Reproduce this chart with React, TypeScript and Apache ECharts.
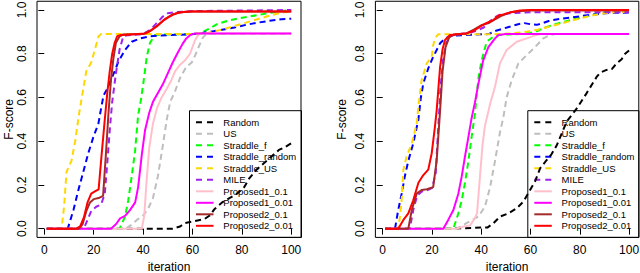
import React, { useEffect, useRef } from "react";
import * as echarts from "echarts";

const SERIES_NAMES = ["Random", "US", "Straddle_f", "Straddle_random", "Straddle_US", "MILE", "Proposed1_0.1", "Proposed1_0.01", "Proposed2_0.1", "Proposed2_0.01"];
const SERIES_COLORS = ["#000000", "#bebebe", "#00ff00", "#0000ff", "#ffd700", "#a020f0", "#ffc0cb", "#ff00ff", "#a52a2a", "#ff0000"];
const SERIES_DASHED = [true, true, true, true, true, true, false, false, false, false];

const ITER_TICKS = [0, 20, 40, 60, 80, 100];
const F_TICKS = [0, 0.2, 0.4, 0.6, 0.8, 1.0];

// ---- Left panel ----
const randomL = [[1,0],[52,0],[55,0.01],[57,0.026],[61,0.035],[65,0.045],[67,0.06],[69,0.09],[72,0.12],[75,0.14],[78,0.16],[81,0.19],[83,0.23],[86,0.27],[89,0.3],[92,0.33],[95,0.36],[97,0.37],[100,0.39]];
const usL = [[1,0],[33,0],[35,0.015],[37.5,0.04],[40,0.06],[42,0.09],[44,0.14],[46,0.24],[48,0.38],[49.6,0.5],[51,0.58],[53,0.63],[55,0.69],[57.5,0.74],[59.7,0.76],[61,0.79],[62.5,0.83],[64,0.87],[65.5,0.89],[100,0.89]];
const straddleFL = [[1,0],[30.5,0],[32.7,0.055],[34,0.13],[35.4,0.24],[36.8,0.36],[38,0.52],[39,0.58],[40.1,0.665],[41.5,0.786],[42.8,0.85],[44.9,0.886],[50,0.888],[60,0.89],[63,0.893],[66,0.91],[70,0.935],[74,0.95],[78,0.96],[83,0.97],[88,0.98],[93,0.99],[97,0.997],[100,1.0]];
const straddleRL = [[1,0],[9.5,0],[11.8,0.085],[13.8,0.177],[15.8,0.26],[17.8,0.345],[19.9,0.42],[21.9,0.48],[23,0.55],[24,0.61],[25.5,0.64],[27,0.68],[28.5,0.72],[30,0.764],[32.7,0.817],[35.4,0.855],[38.8,0.87],[42.8,0.88],[50,0.885],[58,0.888],[63,0.893],[67,0.9],[72,0.91],[77,0.92],[82,0.933],[87,0.943],[92,0.952],[96,0.958],[100,0.96]];
const straddleUSL = [[1,0],[7,0],[8,0.1],[9,0.26],[11,0.31],[12.5,0.4],[14,0.52],[15.5,0.62],[17,0.72],[19,0.76],[20.5,0.82],[22,0.88],[23,0.89],[60,0.89],[66,0.895],[72,0.91],[78,0.93],[84,0.95],[90,0.97],[95,0.985],[100,0.995]];
const mileL = [[1,0],[16,0],[17.5,0.04],[19,0.08],[21,0.1],[23,0.11],[24.5,0.16],[25.5,0.3],[26.5,0.45],[27.5,0.58],[29,0.71],[30.5,0.82],[32,0.88],[34,0.885],[40,0.89],[43,0.91],[45.5,0.94],[48,0.97],[50,0.985],[53,0.99],[60,0.995],[100,1.0]];
const prop1aL = [[1,0],[39.5,0],[40.5,0.06],[41.3,0.2],[42.5,0.37],[44,0.48],[45.6,0.55],[47.5,0.6],[49.6,0.64],[51.5,0.68],[53,0.72],[55,0.75],[57,0.77],[59,0.8],[60,0.83],[61,0.86],[62,0.88],[63,0.893],[100,0.893]];
const prop1bL = [[1,0],[27,0],[29,0.02],[30.7,0.047],[32.7,0.058],[34.7,0.085],[36.8,0.12],[38,0.19],[39.5,0.34],[40.8,0.45],[42.5,0.53],[44,0.58],[46,0.62],[48,0.66],[50,0.71],[52,0.76],[54.3,0.81],[56,0.845],[57.5,0.87],[59,0.885],[61,0.893],[100,0.893]];
const prop2aL = [[1,0],[14,0],[15.5,0.02],[17,0.08],[18.5,0.12],[20,0.135],[22,0.14],[23.8,0.15],[25,0.35],[26,0.53],[27,0.68],[28,0.78],[29,0.85],[30.5,0.88],[32,0.888],[40,0.89],[43,0.905],[46,0.93],[49,0.96],[52,0.98],[55,0.99],[60,0.993],[100,0.993]];
const prop2bL = [[1,0],[13,0],[14.5,0.01],[16,0.05],[17.5,0.12],[19,0.16],[20.5,0.17],[22,0.18],[23.3,0.35],[24.5,0.5],[25.5,0.62],[26.5,0.72],[27.5,0.8],[28.5,0.85],[29.5,0.88],[31,0.886],[35,0.888],[41,0.893],[43,0.905],[45.5,0.925],[48,0.95],[50,0.965],[52,0.978],[54,0.986],[57,0.992],[60,0.993],[100,0.993]];

// ---- Right panel ----
const randomR = [[1,0],[28,0],[40,0.005],[42.5,0.005],[45,0.025],[47.6,0.055],[51,0.07],[54.4,0.093],[57.1,0.124],[59.5,0.17],[61.8,0.215],[63.9,0.276],[66.6,0.314],[68.5,0.34],[70.6,0.38],[72.7,0.436],[74.7,0.49],[78.8,0.55],[82.8,0.62],[86.9,0.695],[88.5,0.715],[90.9,0.726],[93,0.73],[95,0.756],[97,0.775],[98.4,0.8],[100,0.815]];
const usR = [[1,0],[30,0],[34,0.025],[38.8,0.055],[41.5,0.1],[43.6,0.19],[45.6,0.31],[47.6,0.44],[49,0.51],[50.3,0.6],[52.4,0.68],[55.1,0.756],[58.5,0.794],[61.8,0.83],[65.2,0.87],[68,0.886],[70,0.89],[100,0.89]];
const straddleFR = [[1,0],[28.7,0],[30.7,0.07],[32.1,0.13],[33.4,0.21],[34.8,0.31],[36.1,0.42],[37.5,0.53],[38.2,0.62],[39,0.7],[40.2,0.77],[42.2,0.855],[44.9,0.878],[47.6,0.886],[55,0.89],[60,0.895],[63,0.905],[66,0.92],[70,0.935],[75,0.95],[80,0.965],[85,0.978],[90,0.99],[95,0.998],[100,1.0]];
const straddleRR = [[1,0],[5,0],[6.3,0.085],[7.7,0.16],[9,0.24],[10.4,0.31],[12.4,0.39],[14.5,0.5],[15.5,0.6],[16.5,0.665],[18.5,0.733],[20.5,0.786],[23.3,0.848],[25.3,0.87],[28,0.883],[35,0.886],[43,0.89],[46,0.905],[49,0.915],[52,0.925],[55,0.935],[57.5,0.94],[60,0.935],[62.5,0.932],[65,0.94],[68,0.952],[72,0.96],[77,0.966],[83,0.976],[88,0.982],[92,0.987],[100,0.988]];
const straddleUSR = [[1,0],[6.3,0],[7,0.055],[7.7,0.13],[8.4,0.27],[9.7,0.33],[11.8,0.39],[13.8,0.48],[14.5,0.56],[15.8,0.68],[17.9,0.756],[19.9,0.786],[20.5,0.84],[21.5,0.875],[22.6,0.889],[45,0.889],[52,0.893],[58,0.9],[63,0.91],[68,0.925],[73,0.94],[78,0.955],[83,0.97],[88,0.982],[94,0.99],[100,0.992]];
const mileR = [[1,0],[11,0],[12.5,0.09],[14,0.15],[15.8,0.17],[17.9,0.175],[20,0.185],[21.5,0.25],[22.5,0.45],[23.5,0.65],[24.5,0.77],[25.8,0.85],[27.5,0.88],[30,0.89],[35,0.893],[38,0.905],[41,0.92],[43.6,0.95],[46,0.97],[48,0.98],[52,0.985],[60,0.99],[100,0.99]];
const prop1aR = [[1,0],[30,0],[33,0.01],[35.5,0.015],[37,0.04],[38.3,0.07],[39.5,0.24],[40.5,0.38],[41.5,0.47],[43.6,0.57],[45.6,0.65],[47.6,0.756],[50.3,0.817],[54.4,0.855],[58.5,0.87],[62.5,0.886],[64,0.89],[100,0.89]];
const prop1bR = [[1,0],[24.6,0],[26.6,0.04],[28.7,0.085],[30.7,0.16],[32.1,0.24],[33.4,0.33],[34.8,0.42],[36,0.5],[37.5,0.58],[38.8,0.66],[40.8,0.77],[42.9,0.83],[45.6,0.87],[47,0.886],[50,0.89],[100,0.89]];
const prop2aR = [[1,0],[10.4,0],[11.8,0.085],[13.8,0.16],[15.8,0.177],[17.9,0.18],[20.5,0.19],[21.9,0.31],[23.3,0.54],[24.3,0.72],[25.5,0.83],[27,0.875],[29,0.888],[34,0.893],[37,0.91],[40,0.93],[43,0.94],[46,0.96],[48.5,0.975],[52,0.99],[56,0.995],[60,0.998],[100,0.998]];
const prop2bR = [[1,0],[6.3,0],[8.4,0.04],[10.4,0.07],[12.4,0.13],[14.5,0.21],[16.5,0.245],[18.5,0.27],[19.9,0.345],[21.2,0.466],[21.9,0.54],[23.3,0.74],[24.3,0.82],[25.3,0.863],[27.3,0.886],[34,0.893],[37,0.905],[39.5,0.924],[42,0.94],[44.9,0.954],[47,0.975],[49,0.98],[52,0.99],[55.7,0.998],[60,1.0],[100,1.0]];

const LEFT_DATA = [randomL, usL, straddleFL, straddleRL, straddleUSL, mileL, prop1aL, prop1bL, prop2aL, prop2bL];
const RIGHT_DATA = [randomR, usR, straddleFR, straddleRR, straddleUSR, mileR, prop1aR, prop1bR, prop2aR, prop2bR];

const FONT = "'Liberation Sans', Arial, Helvetica, sans-serif";
const PLOT_DASH = [6, 4];

export default function App() {
  const ref = useRef<HTMLDivElement>(null);
  useEffect(() => {
    if (!ref.current) return;
    const chart = echarts.init(ref.current, null, { renderer: "svg" });

    const grids = [
      { left: 37, top: 1.25, width: 264, height: 236.15 },
      { left: 375.4, top: 1.25, width: 263.4, height: 236.15 },
    ];
    const yNameGaps = [22, 27];

    const xAxes = grids.map((_, i) => ({
      type: "value",
      gridIndex: i,
      min: -2.96,
      max: 103.96,
      axisLine: { show: false },
      axisTick: { show: true, customValues: ITER_TICKS, length: 6, lineStyle: { color: "#000", width: 1 } },
      axisLabel: { customValues: ITER_TICKS, color: "#000", fontSize: 12, fontFamily: FONT, margin: 7 },
      splitLine: { show: false },
      name: "iteration",
      nameLocation: "middle",
      nameGap: 24,
      nameTextStyle: { color: "#000", fontSize: 12, fontFamily: FONT },
    }));
    const yAxes = grids.map((_, i) => ({
      type: "value",
      gridIndex: i,
      min: -0.04,
      max: 1.04,
      axisLine: { show: false },
      axisTick: { show: true, customValues: F_TICKS, length: 6, lineStyle: { color: "#000", width: 1 } },
      axisLabel: {
        customValues: F_TICKS,
        color: "#000",
        fontSize: 12,
        fontFamily: FONT,
        rotate: 90,
        margin: 9,
        formatter: (v: number) => v.toFixed(1),
      },
      splitLine: { show: false },
      name: "F-score",
      nameLocation: "middle",
      nameGap: yNameGaps[i],
      nameTextStyle: { color: "#000", fontSize: 12, fontFamily: FONT },
    }));

    const series: any[] = [];
    [LEFT_DATA, RIGHT_DATA].forEach((panel, p) => {
      panel.forEach((data, k) => {
        series.push({
          type: "line",
          name: SERIES_NAMES[k],
          xAxisIndex: p,
          yAxisIndex: p,
          data,
          symbol: "none",
          showSymbol: false,
          silent: true,
          z: 2 + k * 0.01,
          lineStyle: {
            color: SERIES_COLORS[k],
            width: 2,
            type: SERIES_DASHED[k] ? PLOT_DASH : "solid",
            cap: "butt",
          },
        });
      });
    });

    const graphics: any[] = [];
    const legendBoxes = [
      { x: 189, right: 301 },
      { x: 527.3, right: 638.4 },
    ];
    legendBoxes.forEach((b) => {
      graphics.push({
        type: "rect",
        z: 1,
        silent: true,
        shape: { x: b.x + 0.5, y: 110.7, width: b.right - b.x, height: 237.4 - 110.7 },
        style: { fill: "none", stroke: "#000", lineWidth: 1 },
      });
      SERIES_NAMES.forEach((name, k) => {
        const cy = 122.3 + k * 11.5;
        graphics.push({
          type: "line",
          z: 1,
          silent: true,
          shape: { x1: b.x + 7, y1: cy, x2: b.x + 24.5, y2: cy },
          style: {
            stroke: SERIES_COLORS[k],
            lineWidth: 2,
            lineDash: SERIES_DASHED[k] ? [6, 5] : null,
          },
        });
        graphics.push({
          type: "text",
          z: 1,
          silent: true,
          x: b.x + 34.3,
          y: cy,
          style: {
            text: name,
            fill: "#000",
            fontSize: 9.5,
            fontFamily: FONT,
            verticalAlign: "middle",
            align: "left",
          },
        });
      });
    });

    chart.setOption({
      animation: false,
      backgroundColor: "#fff",
      grid: grids.map((g) => ({
        ...g,
        show: true,
        borderColor: "#000",
        borderWidth: 1,
        backgroundColor: "transparent",
        containLabel: false,
        outerBoundsMode: "none",
      })),
      xAxis: xAxes,
      yAxis: yAxes,
      series,
      graphic: graphics,
    });
    return () => chart.dispose();
  }, []);
  return <div ref={ref} style={{ position: "fixed", left: 0, top: 0, width: 640, height: 273 }} />;
}
